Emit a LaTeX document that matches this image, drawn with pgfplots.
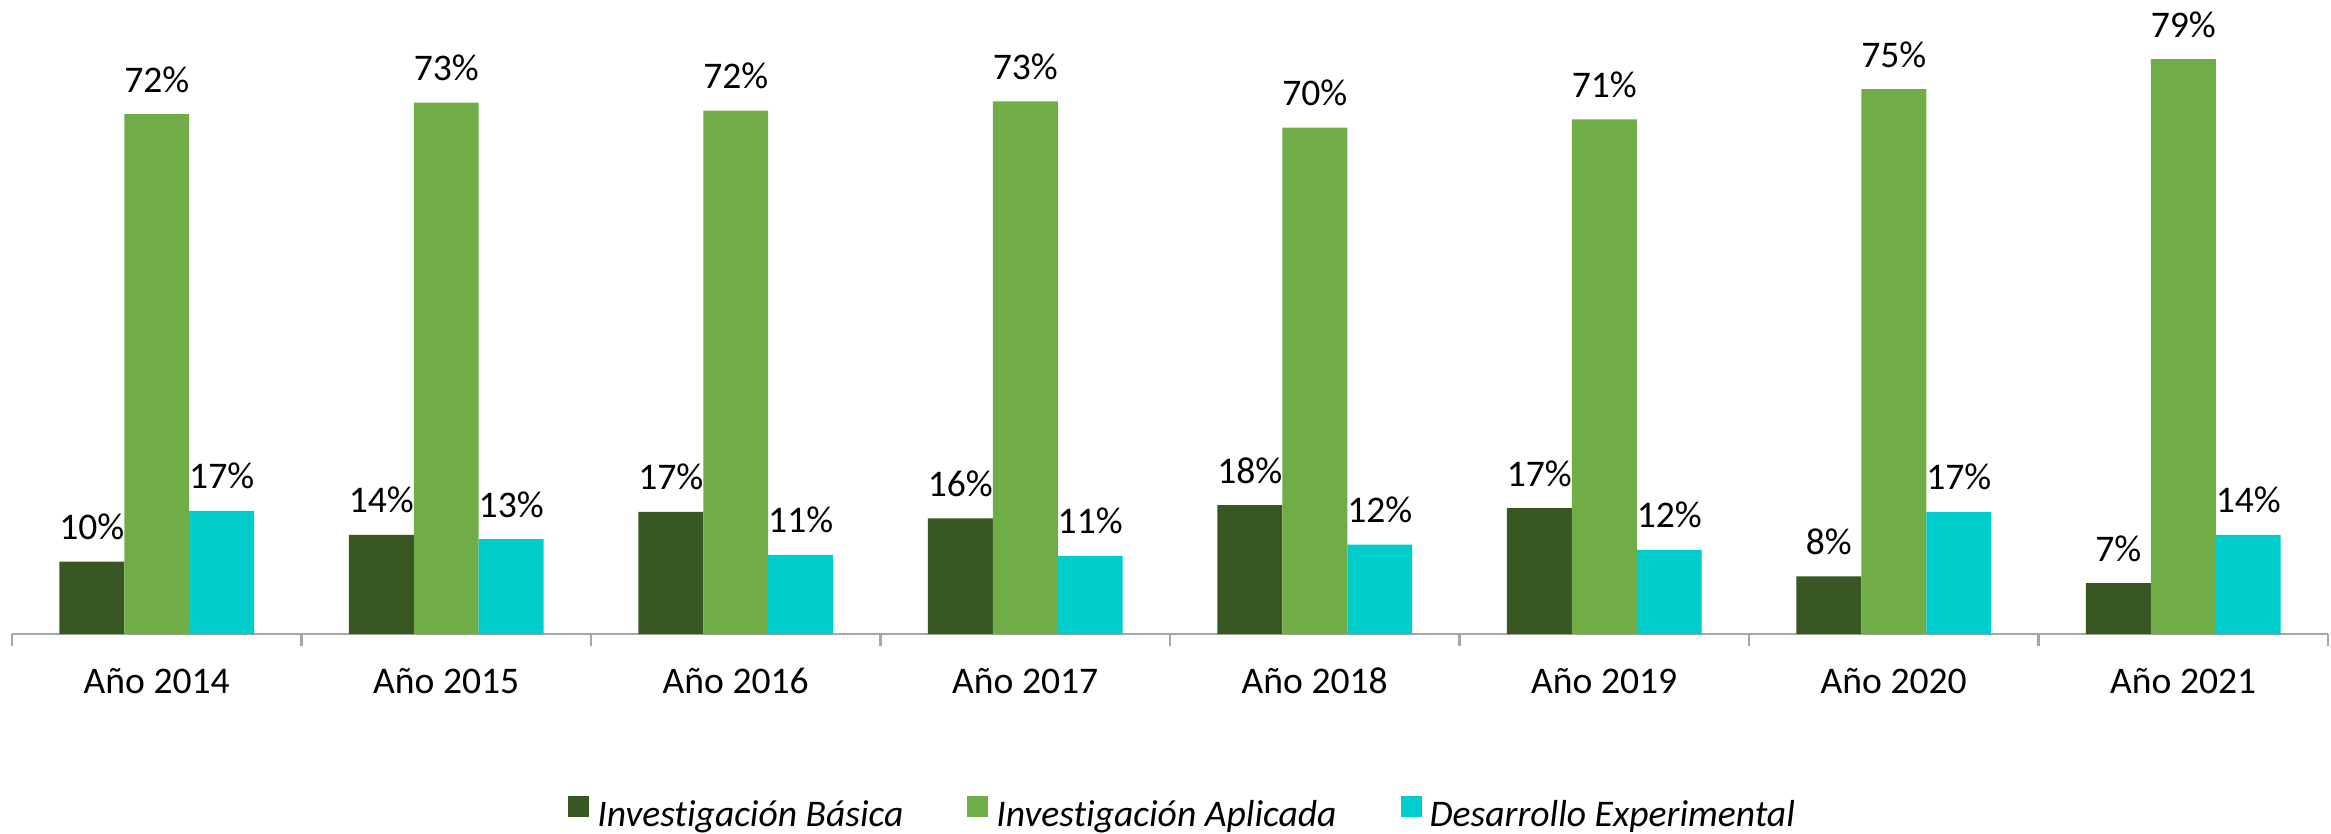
\documentclass[border=0pt]{standalone}
\usepackage{fontspec}
\setmainfont{Carlito}[Ligatures=NoCommon]
\usepackage{pgfplots}
\pgfplotsset{compat=1.18}
\definecolor{cBas}{HTML}{385723}
\definecolor{cApl}{HTML}{70AD47}
\definecolor{cExp}{HTML}{00CCCC}
\definecolor{axgray}{HTML}{A6A6A6}
\pgfplotsset{sqlegend/.style={legend image code/.code={\fill[##1] (0pt,0pt) rectangle (5.25pt,5.25pt);}}}
\begin{document}
\begin{tikzpicture}
\begin{axis}[
  name=ax,
  width=579pt, height=158.5pt, scale only axis,
  xmin=-0.5, xmax=7.5, ymin=0, ymax=87.45,
  axis y line=none,
  axis x line*=bottom,
  x axis line style={axgray, line width=0.6pt},
  xtick={0,...,7},
  xticklabels={Año 2014,Año 2015,Año 2016,Año 2017,Año 2018,Año 2019,Año 2020,Año 2021},
  major x tick style={draw=none},
  major tick length=0pt,
  minor xtick={-0.5,0.5,...,7.5},
  minor tick length=3pt,
  minor x tick style={axgray, line width=0.6pt},
  tick align=outside,
  xtick pos=bottom,
  xticklabel style={font=\fontsize{9.4}{11}\selectfont, anchor=base, yshift=-14.75pt},
  ybar=0pt, bar width=0.2245,
  nodes near coords={\pgfmathprintnumber[assume math mode=true,fixed,precision=0]{\pgfplotspointmeta}\%},
  nodes near coords style={font=\fontsize{9.4}{11}\selectfont, anchor=base, yshift=5.5pt, inner sep=0pt, text=black},
  legend style={draw=none, fill=none, at={(0.2347,-0.288)}, anchor=west,
    font=\itshape\fontsize{9.4}{11}\selectfont,
    /tikz/every even column/.append style={column sep=14pt}},
  legend columns=3,
  clip=false,
]
\addplot[fill=cBas, draw=none, sqlegend]
  coordinates {(0,9.97) (1,13.66) (2,16.83) (3,15.96) (4,17.79) (5,17.38) (6,7.96) (7,7.03)};
\addplot[fill=cApl, draw=none, sqlegend]
  coordinates {(0,71.72) (1,73.28) (2,72.18) (3,73.45) (4,69.83) (5,70.99) (6,75.17) (7,79.31)};
\addplot[fill=cExp, draw=none, sqlegend]
  coordinates {(0,16.97) (1,13.1) (2,10.9) (3,10.76) (4,12.32) (5,11.59) (6,16.83) (7,13.66)};
\legend{Investigación Básica, Investigación Aplicada, Desarrollo Experimental}
\end{axis}
\pgfresetboundingbox
\path[use as bounding box] ([xshift=-3pt,yshift=-50pt]ax.south west) rectangle ++(582.75pt,208.5pt);
\end{tikzpicture}
\end{document}
